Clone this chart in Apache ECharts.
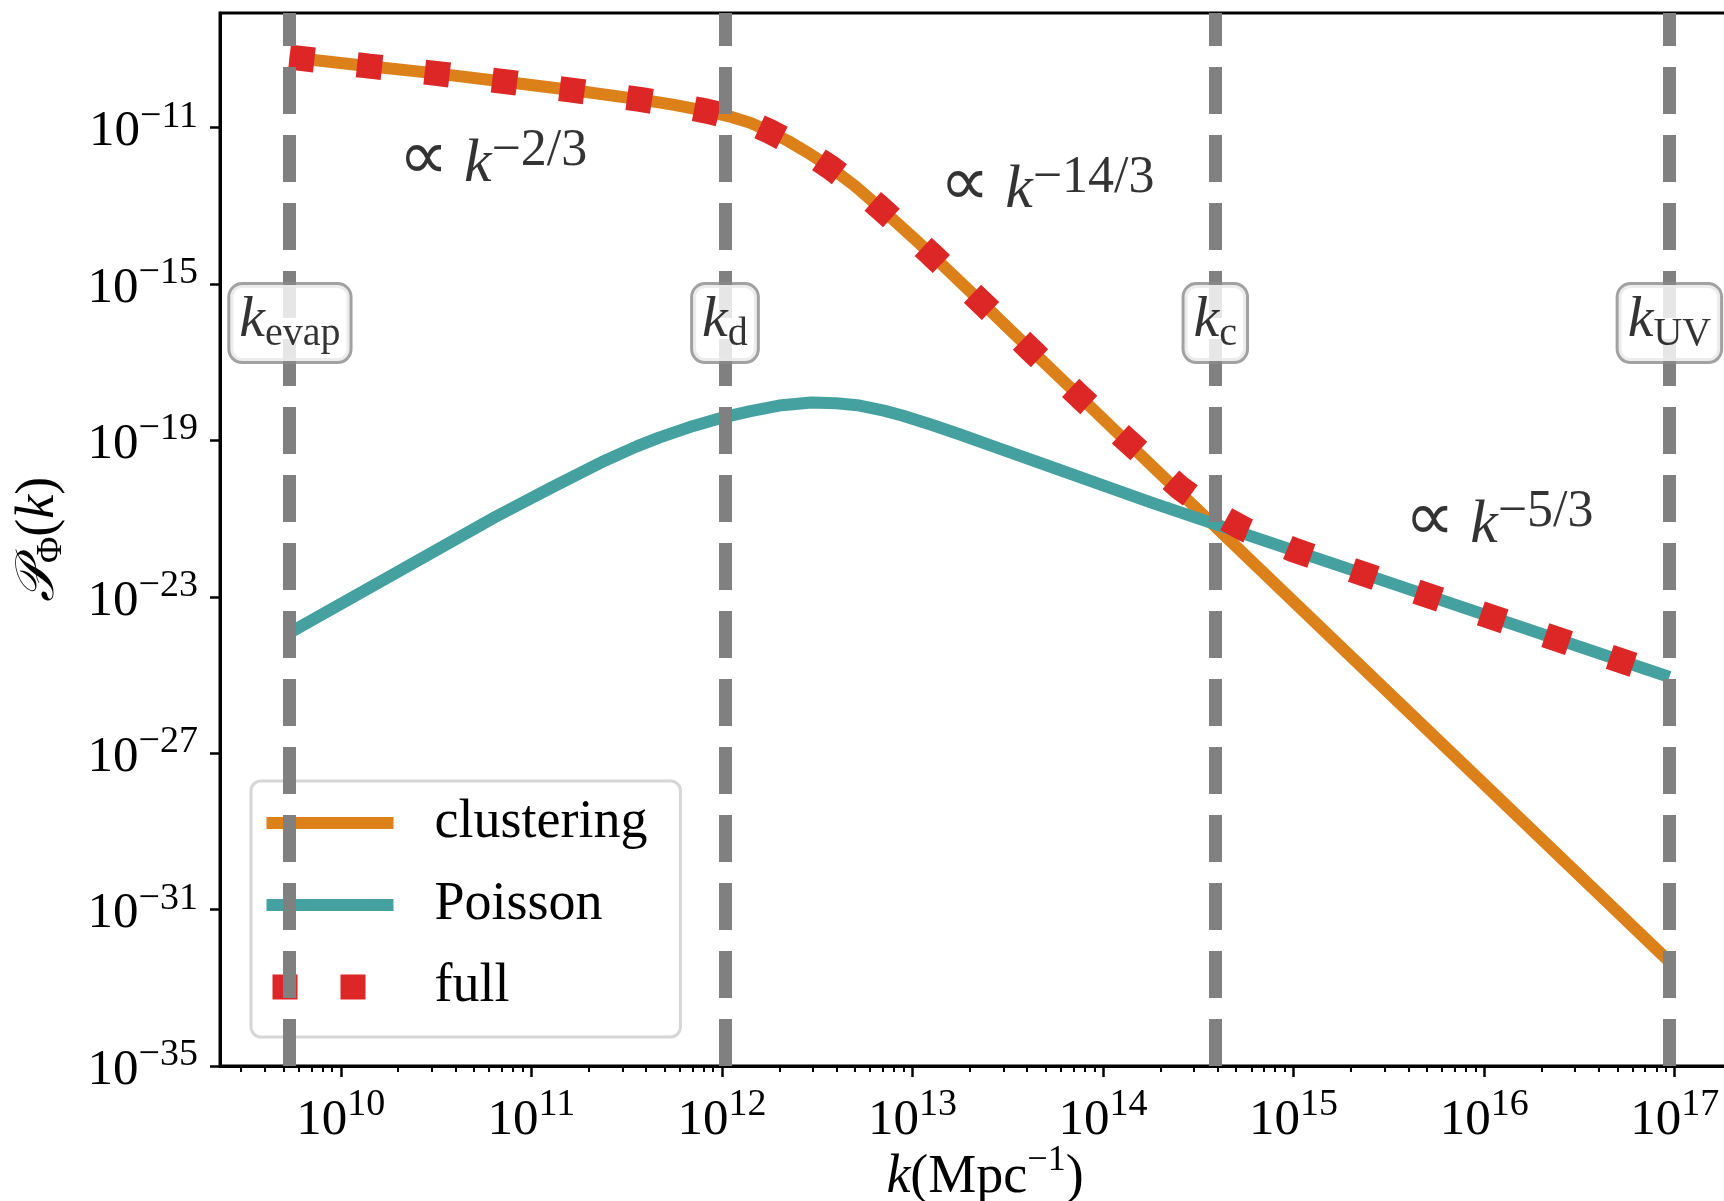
<!DOCTYPE html>
<html>
<head>
<meta charset="utf-8">
<script src="https://cdn.jsdelivr.net/npm/echarts@6/dist/echarts.min.js"></script>
<style>
  html, body { margin: 0; padding: 0; background: #fff; }
  #chart { width: 1724px; height: 1201px; }
</style>
</head>
<body>
<div id="chart"></div>
<script>
// all values are log10: k in Mpc^-1, P_Phi(k)
var clusteringLogK = [9.731, 10.15, 10.51, 10.85, 11.21, 11.57, 11.75, 11.92, 12.05, 12.15, 12.25, 12.35, 12.45, 12.57, 12.70, 12.83, 13.00, 13.10, 13.36, 13.62, 13.88, 14.13, 14.40, 14.58, 15.297, 16.972];
var clusteringLogP = [-9.20, -9.43, -9.62, -9.82, -10.04, -10.28, -10.42, -10.58, -10.73, -10.88, -11.10, -11.35, -11.64, -12.02, -12.50, -13.05, -13.80, -14.25, -15.46, -16.68, -17.89, -19.06, -20.32, -21.16, -24.51, -32.33];

var poissonLogK = [9.731, 10.23, 10.81, 11.10, 11.385, 11.55, 11.67, 11.85, 12.0, 12.15, 12.30, 12.47, 12.60, 12.71, 12.85, 12.95, 13.10, 13.25, 13.45, 13.70, 14.0, 14.247, 14.58, 15.297, 16.972];
var poissonLogP = [-23.92, -22.55, -20.96, -20.22, -19.52, -19.16, -18.93, -18.63, -18.42, -18.25, -18.11, -18.03, -18.05, -18.10, -18.24, -18.37, -18.60, -18.85, -19.20, -19.63, -20.15, -20.58, -21.13, -22.30, -25.05];

var fullLogK = [9.731, 10.15, 10.51, 10.85, 11.21, 11.57, 11.75, 11.92, 12.05, 12.15, 12.25, 12.35, 12.45, 12.57, 12.70, 12.83, 13.00, 13.10, 13.36, 13.62, 13.88, 14.13, 14.40, 14.58, 14.75, 15.0, 15.297, 16.972];
var fullLogP = [-9.20, -9.43, -9.62, -9.82, -10.04, -10.28, -10.42, -10.58, -10.73, -10.88, -11.10, -11.35, -11.64, -12.02, -12.50, -13.05, -13.80, -14.25, -15.46, -16.68, -17.89, -19.02, -20.20, -20.84, -21.29, -21.80, -22.30, -25.05];

var scaleNames = ['evap', 'd', 'c', 'UV'];
var scaleLogK = [9.733, 12.016, 14.589, 16.972];
var scaleBoxLogP = -16.0;

var slopeTexts = ['−2/3', '−14/3', '−5/3'];
var slopeLogK = [10.30, 13.14, 15.58];
var slopeLogP = [-11.85, -12.52, -21.08];

var xTickExp = [10, 11, 12, 13, 14, 15, 16, 17];
var yTickExp = [-35, -31, -27, -23, -19, -15, -11];

var xMin = 9.366, xMax = 17.395;
var yMin = -35, yMax = -8.07;

var serif = "'Liberation Serif', 'DejaVu Serif', serif";

var minorTicks = [];
for (var n = 9; n <= 17; n++) {
  for (var m = 2; m <= 9; m++) {
    var v = n + Math.log10(m);
    if (v > xMin && v < xMax) minorTicks.push(v);
  }
}

function expText(v) {
  return v < 0 ? '−' + (-v) : String(v);
}

function pairs(xs, ys) {
  return xs.map(function (x, i) { return [x, ys[i]]; });
}

var tickRich = {
  b: { fontFamily: serif, fontSize: 51, lineHeight: 60, verticalAlign: 'bottom', color: '#000' },
  s: { fontFamily: serif, fontSize: 38, lineHeight: 38, verticalAlign: 'top', color: '#000' }
};

var hiddenSymbol = { color: 'rgba(0,0,0,0)', borderWidth: 0, opacity: 0 };

var dom = document.getElementById('chart');
var myChart = echarts.init(dom, null, { renderer: 'canvas' });

var option = {
  animation: false,
  backgroundColor: '#fff',
  grid: {
    left: 220,
    top: 13,
    width: 1530,
    height: 1053,
    outerBoundsMode: 'none',
    containLabel: false,
    show: true,
    borderColor: '#000',
    borderWidth: 3
  },
  legend: {
    orient: 'vertical',
    left: 251,
    top: 781,
    padding: [14, 33, 22, 3],
    itemWidth: 127,
    itemHeight: 25,
    itemGap: 26,
    backgroundColor: 'rgba(255,255,255,0.8)',
    borderColor: '#d6d6d6',
    borderWidth: 3,
    borderRadius: 10,
    textStyle: { fontFamily: serif, fontSize: 54, lineHeight: 56, color: '#000', padding: [0, 0, 0, 36] },
    data: [
      { name: 'clustering', lineStyle: { width: 12 }, itemStyle: hiddenSymbol },
      { name: 'Poisson', lineStyle: { width: 12 }, itemStyle: hiddenSymbol },
      { name: 'full', lineStyle: { width: 25, dashOffset: 62 }, itemStyle: hiddenSymbol }
    ]
  },
  xAxis: [
    {
      type: 'value',
      min: xMin,
      max: xMax,
      name: '{k|k}{r|(Mpc}{s|−1}{r|)}',
      nameLocation: 'middle',
      nameGap: 77,
      nameMoveOverlap: false,
      nameTextStyle: {
        rich: {
          k: { fontFamily: serif, fontStyle: 'italic', fontSize: 54, lineHeight: 62, verticalAlign: 'bottom', color: '#000' },
          r: { fontFamily: serif, fontSize: 54, lineHeight: 62, verticalAlign: 'bottom', color: '#000' },
          s: { fontFamily: serif, fontSize: 36, lineHeight: 36, verticalAlign: 'top', color: '#000' }
        }
      },
      axisLine: { lineStyle: { color: '#000', width: 3 } },
      axisTick: { show: true, customValues: xTickExp, length: 11, lineStyle: { color: '#000', width: 2.5 } },
      axisLabel: {
        customValues: xTickExp,
        margin: 20,
        formatter: function (v) { return '{b|10}{s|' + expText(v) + '}'; },
        rich: tickRich
      },
      splitLine: { show: false }
    },
    {
      type: 'value',
      min: xMin,
      max: xMax,
      position: 'bottom',
      axisLine: { show: false },
      axisTick: { show: true, customValues: minorTicks, length: 6, lineStyle: { color: '#000', width: 2 } },
      axisLabel: { show: false },
      splitLine: { show: false }
    }
  ],
  yAxis: {
    type: 'value',
    min: yMin,
    max: yMax,
    name: '{p|𝒫}{s|Φ}{r|(}{k|k}{r|)}',
    nameLocation: 'middle',
    nameRotate: 90,
    nameGap: 150,
    nameMoveOverlap: false,
    nameTextStyle: {
      rich: {
        p: { fontFamily: serif, fontStyle: 'italic', fontSize: 54, lineHeight: 62, color: '#000' },
        s: { fontFamily: serif, fontSize: 36, lineHeight: 62, verticalAlign: 'bottom', color: '#000' },
        r: { fontFamily: serif, fontSize: 54, lineHeight: 62, color: '#000' },
        k: { fontFamily: serif, fontStyle: 'italic', fontSize: 54, lineHeight: 62, color: '#000' }
      }
    },
    axisLine: { lineStyle: { color: '#000', width: 3 } },
    axisTick: { show: true, customValues: yTickExp, length: 10, lineStyle: { color: '#000', width: 2.5 } },
    axisLabel: {
      customValues: yTickExp,
      margin: 22,
      formatter: function (v) { return '{b|10}{s|' + expText(v) + '}'; },
      rich: tickRich
    },
    splitLine: { show: false }
  },
  series: [
    {
      name: 'scales',
      type: 'line',
      data: [],
      z: 1,
      markLine: {
        silent: true,
        symbol: ['none', 'none'],
        label: { show: false },
        lineStyle: { color: '#808080', width: 13, type: [47, 21], cap: 'butt' },
        data: scaleLogK.map(function (k) { return { xAxis: k }; })
      }
    },
    {
      name: 'clustering',
      type: 'line',
      symbol: 'none',
      z: 3,
      lineStyle: { color: '#DC801A', width: 12, join: 'round' },
      itemStyle: { color: '#DC801A' },
      data: pairs(clusteringLogK, clusteringLogP)
    },
    {
      name: 'Poisson',
      type: 'line',
      symbol: 'none',
      z: 3,
      lineStyle: { color: '#45A19F', width: 12, join: 'round' },
      itemStyle: { color: '#45A19F' },
      data: pairs(poissonLogK, poissonLogP)
    },
    {
      name: 'full',
      type: 'line',
      symbol: 'none',
      z: 4,
      lineStyle: { color: '#DD2626', width: 25, type: [25, 43], cap: 'butt' },
      itemStyle: { color: '#DD2626' },
      data: pairs(fullLogK, fullLogP)
    },
    {
      name: 'scaleLabels',
      type: 'scatter',
      z: 5,
      symbolSize: 1,
      itemStyle: { color: 'rgba(0,0,0,0)' },
      data: scaleLogK.map(function (k, i) { return { name: scaleNames[i], value: [k, scaleBoxLogP] }; }),
      label: {
        show: true,
        position: 'inside',
        formatter: function (p) { return '{k|k}{sub|' + p.name + '}'; },
        backgroundColor: '#fff',
        borderColor: '#8a8a8a',
        borderWidth: 3,
        borderRadius: 12,
        padding: [7, 9, 7, 9],
        rich: {
          k: { fontFamily: serif, fontStyle: 'italic', fontSize: 58, lineHeight: 62, verticalAlign: 'top', color: '#000' },
          sub: { fontFamily: serif, fontSize: 40, lineHeight: 40, verticalAlign: 'bottom', color: '#000' }
        }
      }
    },
    {
      name: 'slopes',
      type: 'scatter',
      z: 5,
      symbolSize: 1,
      itemStyle: { color: 'rgba(0,0,0,0)' },
      data: slopeLogK.map(function (k, i) { return { name: slopeTexts[i], value: [k, slopeLogP[i]] }; }),
      label: {
        show: true,
        position: 'right',
        distance: 0,
        formatter: function (p) { return '{p|∝}{k| k}{s|' + p.name + '}'; },
        rich: {
          p: { fontFamily: "'DejaVu Sans', sans-serif", fontSize: 70, lineHeight: 70, verticalAlign: 'bottom', color: '#000' },
          k: { fontFamily: serif, fontStyle: 'italic', fontSize: 62, lineHeight: 70, verticalAlign: 'bottom', color: '#000' },
          s: { fontFamily: serif, fontSize: 52, lineHeight: 38, verticalAlign: 'top', color: '#000' }
        }
      }
    }
  ]
};

myChart.setOption(option);
window.addEventListener('resize', myChart.resize);
</script>
</body>
</html>
